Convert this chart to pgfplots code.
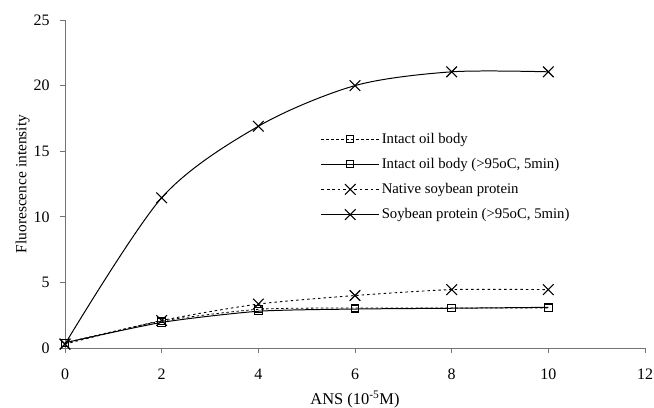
\documentclass[border=0pt]{standalone}
\usepackage{fontspec}
\setmainfont{Liberation Serif}
\usepackage{pgfplots}
\pgfplotsset{compat=1.18}
\begin{document}
\begin{tikzpicture}
\useasboundingbox (-65bp,-60bp) rectangle (589bp,348bp);
\begin{axis}[
  scale only axis, width=580bp, height=328bp,
  at={(0,0)}, anchor=origin,
  xmin=0, xmax=12, ymin=0, ymax=25,
  xtick={0,2,...,12}, ytick={0,5,...,25},
  axis x line=bottom, axis y line=left,
  axis line style={-, draw=black!55, line width=0.8pt},
  tick style={draw=black!55, line width=0.8pt},
  tick align=outside, major tick length=5bp,
  /pgf/number format/assume math mode=true,
  ticklabel style={font=\fontsize{16}{18}\selectfont},
  xticklabel style={yshift=-12bp},
  yticklabel style={xshift=-7bp},
  xlabel={ANS (10\textsuperscript{-5}M)}, ylabel={Fluorescence intensity},
  label style={font=\fontsize{16.5}{18}\selectfont},
  xlabel style={yshift=-5bp},
  ylabel style={yshift=-3bp, font=\fontsize{15.5}{17}\selectfont},
  clip=false,
  legend style={draw=none, fill=none, at={(rel axis cs:0.4355,0.668)}, anchor=north west,
    font=\fontsize{14.8}{17}\selectfont, row sep=9.5bp, legend cell align=left,
    nodes={inner xsep=2bp}},
  legend image code/.code={\draw[mark repeat=2,mark phase=2] plot coordinates {(0bp,0bp)(29bp,0bp)(58bp,0bp)};},
]
\addplot[black, line width=0.8pt, dash pattern=on 2.5pt off 2.5pt, smooth, tension=0.4, mark=square, mark size=3.7bp, mark options={solid, line width=1pt}]
  coordinates {(0,0.4) (2,2.05) (4,2.95) (6,3.05) (8,3.05) (10,3.05)};
\addlegendentry{Intact oil body}
\addplot[black, line width=1pt, smooth, tension=0.4, mark=square, mark size=3.7bp, mark options={solid, line width=1pt}]
  coordinates {(0,0.4) (2,1.95) (4,2.8) (6,2.97) (8,3.03) (10,3.1)};
\addlegendentry{Intact oil body (>95oC, 5min)}
\addplot[black, line width=0.9pt, dash pattern=on 2.5pt off 3pt, smooth, tension=0.4, mark=x, mark size=7.5bp, mark options={solid, line width=1.1pt}]
  coordinates {(0,0.3) (2,2.1) (4,3.35) (6,4.0) (8,4.45) (10,4.45)};
\addlegendentry{Native soybean protein}
\addplot[black, line width=1pt, smooth, tension=0.5, mark=x, mark size=7.5bp, mark options={solid, line width=1.1pt}]
  coordinates {(0,0.3) (2,11.45) (4,16.9) (6,20.0) (8,21.05) (10,21.05)};
\addlegendentry{Soybean protein (>95oC, 5min)}
\end{axis}
\end{tikzpicture}
\end{document}
